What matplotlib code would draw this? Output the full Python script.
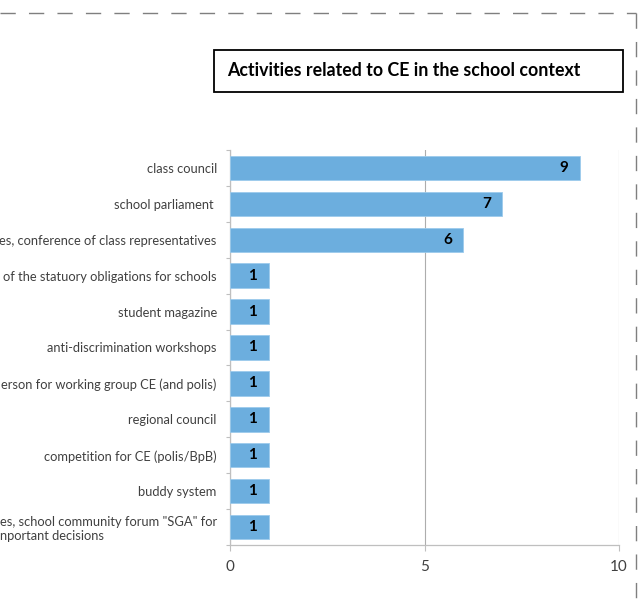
import matplotlib.pyplot as plt
from matplotlib.lines import Line2D
from matplotlib.patches import Rectangle

# categories top to bottom (as far as they are visible in the cropped chart)
activities = [
    "class council",
    "school parliament ",
    "es, conference of class representatives",
    "of the statuory obligations for schools",
    "student magazine",
    "anti-discrimination workshops",
    "erson for working group CE (and polis)",
    "regional council",
    "competition for CE (polis/BpB)",
    "buddy system",
    "es, school community forum \"SGA\" for\nnportant decisions",
]
counts = [9, 7, 6, 1, 1, 1, 1, 1, 1, 1, 1]
x_ticks = [0, 5, 10]

BAR_COLOR = "#6CAEDE"
TEXT_COLOR = "#404040"
AXIS_COLOR = "#BFBFBF"

plt.rcParams["font.family"] = ["Lato", "DejaVu Sans"]

fig = plt.figure(figsize=(6.44, 6.10), dpi=100)
W, H = 644, 610

ax = fig.add_axes([230 / W, 1 - 545 / H, (619 - 230) / W, (545 - 150) / H])

y = list(range(len(activities)))
bars = ax.barh(y, counts, height=0.68, color=BAR_COLOR, edgecolor="#9CCBEC", linewidth=0.6, zorder=3)

# value labels inside the bar end
for rect, val in zip(bars, counts):
    ax.annotate(str(val), xy=(rect.get_width(), rect.get_y() + rect.get_height() / 2),
                xytext=(-11.5, 0), textcoords="offset points",
                ha="center", va="center", fontsize=11, fontweight="bold", color="black", zorder=4)

ax.set_xlim(0, 10)
ax.set_ylim(len(activities) - 0.5, -0.5)
ax.set_xticks(x_ticks)
ax.set_xticklabels([str(t) for t in x_ticks])
ax.set_yticks(y)
ax.set_yticklabels(activities, fontsize=9.3, color=TEXT_COLOR, multialignment="left")
ax.set_yticks([i - 0.5 for i in range(len(activities) + 1)], minor=True)

ax.tick_params(axis="y", which="major", length=0, pad=9.5)
ax.tick_params(axis="y", which="minor", length=3, color=AXIS_COLOR, width=0.8)
ax.tick_params(axis="x", length=4, color=AXIS_COLOR, width=0.8, labelsize=11, labelcolor=TEXT_COLOR, pad=7)

ax.grid(axis="x", color="#ADADAD", linewidth=0.8, zorder=0)
for side in ["top", "right"]:
    ax.spines[side].set_visible(False)
for side in ["left", "bottom"]:
    ax.spines[side].set_color(AXIS_COLOR)
    ax.spines[side].set_linewidth(0.9)

# title box
fig.patches.append(Rectangle((214 / W, 1 - 92 / H), (623 - 214) / W, 42 / H,
                             transform=fig.transFigure, fill=False, edgecolor="black", linewidth=1.3))
fig.text(227 / W, 1 - 71 / H, "Activities related to CE in the school context",
         fontsize=12.8, fontweight="bold", color="black", ha="left", va="center")

# dashed outer frame (partly visible)
frame_style = dict(color="#7F7F7F", linewidth=1.0, dashes=(11, 9.5), transform=fig.transFigure)
fig.lines.append(Line2D([0, 636 / W], [1 - 13 / H, 1 - 13 / H], **frame_style))
fig.lines.append(Line2D([636 / W, 636 / W], [1 - 13 / H, 0], **frame_style))

fig.savefig("out.png", dpi=100)
